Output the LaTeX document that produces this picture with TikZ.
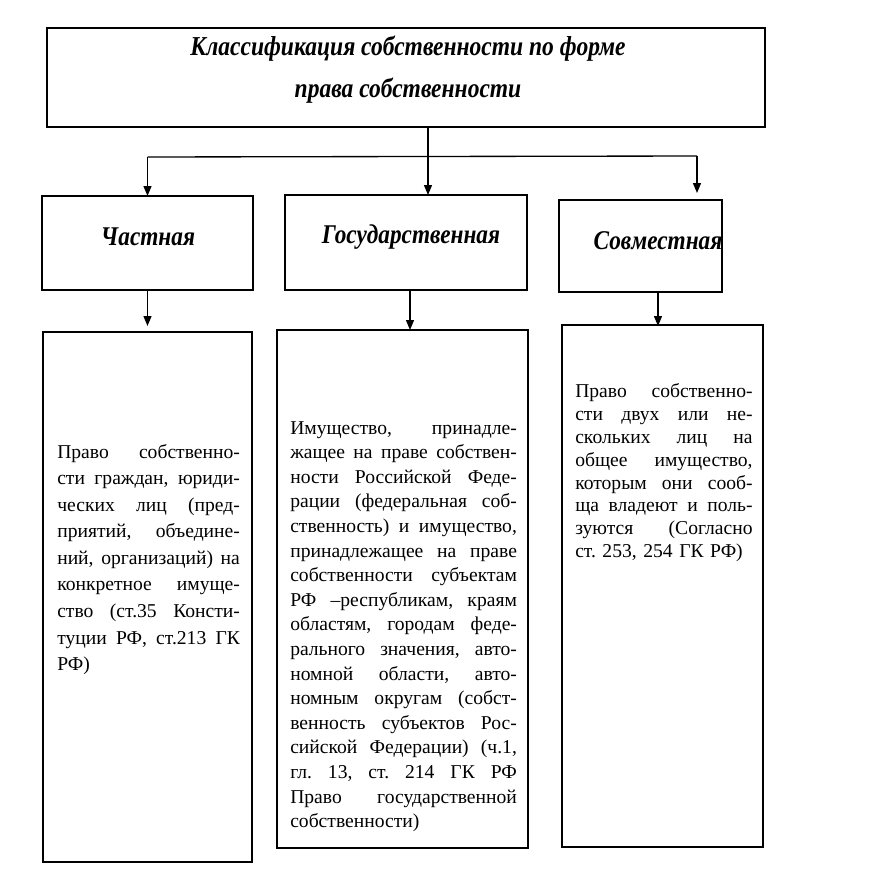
\documentclass[tikz,border=0pt]{standalone}
\usepackage{fontspec}
\setmainfont{Liberation Serif}
\newfontfamily\headfont{Liberation Serif Bold Italic}[FakeStretch=0.86]
\usetikzlibrary{arrows.meta,fit}
\newcommand\jlx[2]{\hbox to #1{\spaceskip=0.25em plus 1fil minus 0.05em\relax #2}}
\newcommand\jla[1]{\jlx{137pt}{#1}}
\newcommand\jlb[1]{\jlx{170pt}{#1}}
\newcommand\jlc[1]{\jlx{133pt}{#1}}
\newcommand\jllast[1]{\hbox{#1}}
\begin{document}
\begin{tikzpicture}[x=0.75pt,y=-0.75pt,
  box/.style={draw, line width=1.1pt, inner sep=0pt, outer sep=0pt},
  arr/.style={line width=1pt, -{Triangle[width=6pt,length=7.5pt]}},
  conn/.style={line width=1pt},
  title/.style={font=\headfont\fontsize{20.5}{24}\selectfont, align=center, inner sep=0pt},
  lab/.style={font=\headfont\fontsize{20.3}{24}\selectfont, inner sep=0pt},
  body/.style={font=\frenchspacing\fontsize{14.7}{#1}\selectfont, text width=137pt, align=left, inner sep=0pt, anchor=north west},
  bodyw/.style={body=#1, text width=170pt},
  bodyn/.style={body=#1, text width=133pt}
]
\useasboundingbox (0,0) rectangle (876,896);
% top box
\node[box, fit={(47,28) (765,127)}] (top) {};
\node[title] (t1) at (408,49) {Классификация собственности по форме};
\node[title] (t2) at (408,91) {права собственности};
% level 2
\node[box, fit={(42,196) (253,290)}] (chast) {};
\node[box, fit={(285,195) (527,290)}] (gos) {};
\node[box, fit={(559,200) (722,292)}] (sovm) {};
\node[lab] (lchast) at (148,237) {Частная};
\node[lab] (lgos) at (411,237) {Государственная};
\node[lab] (lsovm) at (658,241) {Совместная};
% level 3
\node[box, fit={(43,332) (252,862)}] (bchast) {};
\node[box, fit={(277,330) (528,848)}] (bgos) {};
\node[box, fit={(562,325) (763,847)}] (bsovm) {};
\node[body=19.9pt] (tchast) at (57,444) {%
\jla{Право собственно-}
\jla{сти граждан, юриди-}
\jla{ческих лиц (пред-}
\jla{приятий, объедине-}
\jla{ний, организаций) на}
\jla{конкретное имуще-}
\jla{ство (ст.35 Консти-}
\jla{туции РФ, ст.213 ГК}
\jllast{РФ)}};
\node[bodyw=18.45pt] (tgos) at (290,421) {%
\jlb{Имущество, принадле-}
\jlb{жащее на праве собствен-}
\jlb{ности Российской Феде-}
\jlb{рации (федеральная соб-}
\jlb{ственность) и имущество,}
\jlb{принадлежащее на праве}
\jlb{собственности субъектам}
\jlb{РФ –республикам, краям}
\jlb{областям, городам феде-}
\jlb{рального значения, авто-}
\jlb{номной области, авто-}
\jlb{номным округам (собст-}
\jlb{венность субъектов Рос-}
\jlb{сийской Федерации) (ч.1,}
\jlb{гл. 13, ст. 214 ГК РФ}
\jlb{Право государственной}
\jllast{собственности)}};
\node[bodyn=17.2pt] (tsovm) at (575,383) {%
\jlc{Право собственно-}
\jlc{сти двух или не-}
\jlc{скольких лиц на}
\jlc{общее имущество,}
\jlc{которым они сооб-}
\jlc{ща владеют и поль-}
\jlc{зуются (Согласно}
\jllast{ст. 253, 254 ГК РФ)}};
% connectors
\coordinate (j) at (428,157);
\coordinate (jl) at (chast.north |- j);
\coordinate (jr) at (697,156);
\draw[conn] (top.south -| j) -- (j);
\draw[conn] (jl) -- (jr);
\draw[arr] (jl) -- (chast.north);
\draw[arr] (j) -- (j |- gos.north);
\draw[arr] (jr) -- (697,193);
\draw[arr] (chast.south) -- (chast.south |- 0,326);
\draw[arr] (gos.south -| 410,0) -- (bgos.north -| 410,0);
\draw[arr] (sovm.south -| 658,0) -- (658,326);
\end{tikzpicture}
\end{document}
